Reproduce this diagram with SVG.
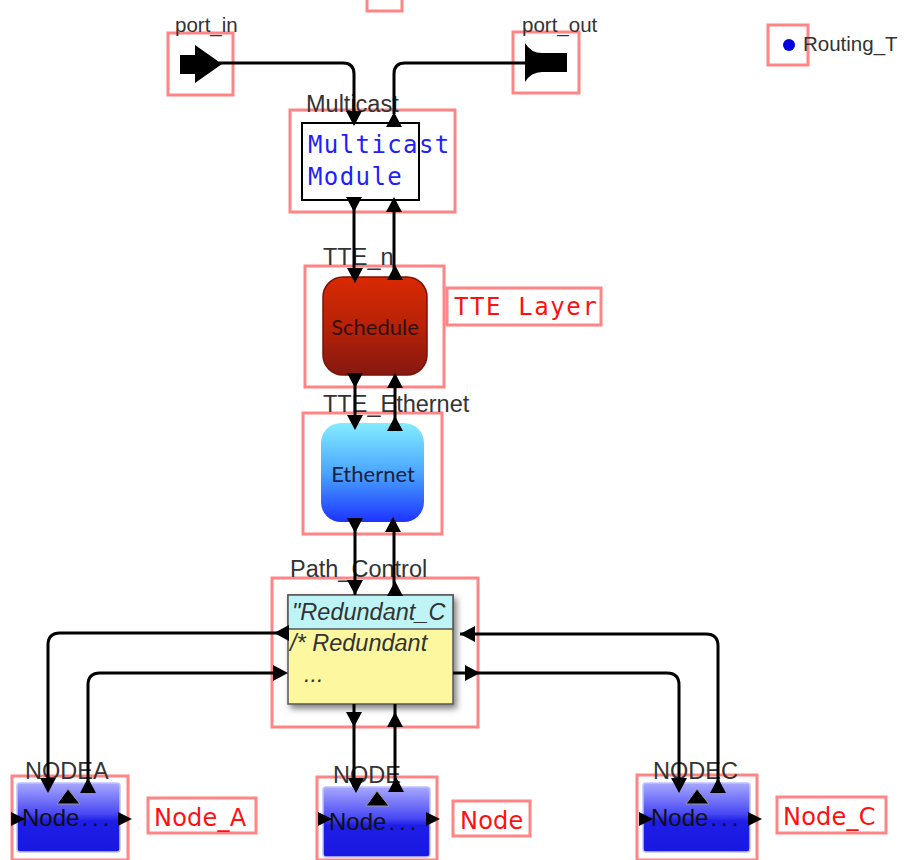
<svg xmlns="http://www.w3.org/2000/svg" width="914" height="860" viewBox="0 0 914 860">
<defs>
<style>
.rb{fill:none;stroke:#ff8484;stroke-width:3}
.lbl{font-family:"Liberation Sans",Arial,sans-serif;font-size:23.5px;fill:#333}
.plbl{font-family:"Liberation Sans",Arial,sans-serif;font-size:20.5px;fill:#333}
.c{fill:none;stroke:#000;stroke-width:3}
.rt{font-family:"DejaVu Sans",Verdana,sans-serif;font-size:24px;fill:#ff1010;letter-spacing:0.2px}
.mono{font-family:"DejaVu Sans Mono",monospace;font-size:24px;letter-spacing:1.4px}
.nt{font-family:"Liberation Sans",Arial,sans-serif;font-size:24px;fill:#111}
.dots{letter-spacing:4px}
.bt{font-family:Lato,"Open Sans",sans-serif;font-size:22px}
.it{font-family:"Liberation Sans",Arial,sans-serif;font-size:23.5px;font-style:italic;fill:#333}
.tri{fill:#000;stroke:#999;stroke-width:1}
</style>
<linearGradient id="gS" x1="0" y1="0" x2="0" y2="1">
<stop offset="0" stop-color="#d82a02"/><stop offset="0.5" stop-color="#b82208"/><stop offset="1" stop-color="#861810"/>
</linearGradient>
<linearGradient id="gE" x1="0" y1="0" x2="0" y2="1">
<stop offset="0" stop-color="#84ecff"/><stop offset="0.5" stop-color="#4aa6ff"/><stop offset="1" stop-color="#1c34ff"/>
</linearGradient>
<linearGradient id="gN" x1="0" y1="0" x2="0" y2="1">
<stop offset="0" stop-color="#a8a8ff"/><stop offset="0.45" stop-color="#4848f4"/><stop offset="0.55" stop-color="#1e1ee6"/><stop offset="1" stop-color="#1818e0"/>
</linearGradient>
<filter id="sh" x="-10%" y="-10%" width="130%" height="130%">
<feDropShadow dx="3" dy="4" stdDeviation="3" flood-color="#000" flood-opacity="0.5"/>
</filter>
<clipPath id="pcClip"><rect x="288" y="595" width="165" height="109"/></clipPath>
<path id="ad" d="M-8,-15H8L0,0Z"/>
<path id="au" d="M-8,15H8L0,0Z"/>
<path id="al" d="M15,-8V8L0,0Z"/>
<path id="ar" d="M-15,-8V8L0,0Z"/>
<path id="sar" d="M-14,-7V7L0,0Z"/>
</defs>
<rect x="0" y="0" width="914" height="860" fill="#fff"/>

<g id="top_marker">
<rect class="rb" x="367" y="-10" width="35" height="21"/>
</g>

<g id="port_in">
<rect class="rb" x="168" y="33" width="65" height="62"/>
<text class="plbl" x="175" y="32">port_in</text>
<polygon points="180,55 195,55 195,45 222,64 195,83 195,74 180,74" fill="#000"/>
</g>

<g id="port_out">
<rect class="rb" x="513" y="32" width="66" height="61"/>
<text class="plbl" x="522" y="32">port_out</text>
<path d="M525,43 Q531,53 542,53 H567 V72 H542 Q531,72 525,82 Z" fill="#000"/>
</g>

<g id="routing">
<rect class="rb" x="768" y="25" width="40" height="40"/>
<circle cx="789" cy="45" r="6" fill="#0000e0"/>
<text class="plbl" x="803" y="51" font-size="22px">Routing_T</text>
</g>

<g id="multicast">
<rect class="rb" x="290" y="110" width="165" height="102"/>
<text class="lbl" x="306" y="112">Multicast</text>
<rect x="302" y="123" width="117" height="77" fill="#fff" stroke="#000" stroke-width="2"/>
<text class="mono" x="308" y="153" fill="#2020ff">Multicast</text>
<text class="mono" x="308" y="185" fill="#2020ff">Module</text>
</g>

<g id="tte_n">
<rect class="rb" x="305" y="266" width="139" height="121"/>
<text class="lbl" x="323" y="265">TTE_n</text>
<rect x="323" y="277" width="104" height="98" rx="20" fill="url(#gS)" stroke="#7a1208" stroke-width="1.5"/>
<text class="bt" x="375" y="335" text-anchor="middle" fill="#301010">Schedule</text>
</g>

<g id="tte_layer_label">
<rect class="rb" x="447" y="288" width="154" height="37"/>
<text class="mono" x="454" y="315" fill="#ff1010" font-size="23px" style="letter-spacing:1.6px">TTE Layer</text>
</g>

<g id="tte_ethernet">
<rect class="rb" x="303" y="413" width="139" height="121"/>
<text class="lbl" x="323" y="412">TTE_Ethernet</text>
<rect x="321" y="423" width="103" height="99" rx="20" fill="url(#gE)"/>
<text class="bt" x="373" y="482" text-anchor="middle" fill="#1a2040">Ethernet</text>
</g>

<g id="path_control">
<rect class="rb" x="272" y="578" width="206" height="149"/>
<text class="lbl" x="290" y="577">Path_Control</text>
<rect x="288" y="595" width="165" height="109" fill="#fdf8a0" stroke="#555" stroke-width="1.5" filter="url(#sh)"/>
<rect x="288" y="595" width="165" height="34" fill="#bff4f6" stroke="#555" stroke-width="1.5"/>
<g clip-path="url(#pcClip)">
<text class="it" x="292" y="620">"Redundant_C</text>
<text class="it" x="290" y="651">/* Redundant</text>
<text class="it" x="304" y="682">...</text>
</g>
</g>

<g id="nodea">
<rect class="rb" x="12" y="776" width="116" height="84"/>
<rect x="17" y="783" width="103" height="69" rx="3" fill="url(#gN)" stroke="#bfc4ff" stroke-width="1.5"/>
<text class="lbl" x="25" y="779">NODEA</text>
<polygon class="tri" points="68,789 57,804 80,804"/>
<text class="nt" x="22" y="826">Node<tspan class="dots" dx="2">...</tspan></text>
<use href="#sar" x="25" y="819"/>
<use href="#sar" x="132" y="819"/>
</g>
<g id="nodea_label">
<rect class="rb" x="148" y="798" width="108" height="35"/>
<text class="rt" x="154" y="826">Node_A</text>
</g>

<g id="node">
<rect class="rb" x="317" y="777" width="120" height="83"/>
<rect x="323" y="787" width="107" height="70" rx="3" fill="url(#gN)" stroke="#bfc4ff" stroke-width="1.5"/>
<text class="lbl" x="333" y="783">NODE</text>
<polygon class="tri" points="377,791 366,806 389,806"/>
<text class="nt" x="329" y="830">Node<tspan class="dots" dx="2">...</tspan></text>
<use href="#sar" x="332" y="819"/>
<use href="#sar" x="440" y="819"/>
</g>
<g id="node_label">
<rect class="rb" x="453" y="801" width="77" height="35"/>
<text class="rt" x="460" y="829">Node</text>
</g>

<g id="nodec">
<rect class="rb" x="637" y="775" width="120" height="85"/>
<rect x="643" y="783" width="107" height="69" rx="3" fill="url(#gN)" stroke="#bfc4ff" stroke-width="1.5"/>
<text class="lbl" x="653" y="779">NODEC</text>
<polygon class="tri" points="697,789 686,804 709,804"/>
<text class="nt" x="651" y="826">Node<tspan class="dots" dx="2">...</tspan></text>
<use href="#sar" x="653" y="819"/>
<use href="#sar" x="762" y="819"/>
</g>
<g id="nodec_label">
<rect class="rb" x="777" y="797" width="109" height="36"/>
<text class="rt" x="783" y="825">Node_C</text>
</g>

<g id="connectors">
<path class="c" d="M219,63 H343 Q354,63 354,74 V114"/>
<use href="#ad" x="354" y="126"/>
<path class="c" d="M394,114 V74 Q394,63 405,63 H526"/>
<use href="#au" x="394" y="112"/>

<path class="c" d="M354,200 V278 M394,200 V278"/>
<use href="#ad" x="354" y="212"/><use href="#ad" x="355" y="283"/>
<use href="#au" x="394" y="197"/><use href="#au" x="395" y="265"/>

<path class="c" d="M355,375 V423 M395,375 V423"/>
<use href="#ad" x="355" y="388"/><use href="#ad" x="355" y="430"/>
<use href="#au" x="395" y="373"/><use href="#au" x="395" y="416"/>

<path class="c" d="M355,522 V595 M394,522 V595"/>
<use href="#ad" x="355" y="533"/><use href="#ad" x="355" y="595"/>
<use href="#au" x="393" y="517"/><use href="#au" x="395" y="581"/>

<path class="c" d="M354,704 V787 M395,704 V787"/>
<use href="#ad" x="354" y="727"/><use href="#ad" x="356" y="793"/>
<use href="#au" x="395" y="712"/><use href="#au" x="396" y="777"/>

<path class="c" d="M288,633 H60 Q48,633 48,645 V782"/>
<use href="#al" x="274" y="633"/>
<use href="#ad" x="48" y="793"/>
<path class="c" d="M88,790 V685 Q88,673 100,673 H276"/>
<use href="#au" x="88" y="778"/>
<use href="#ar" x="288" y="673"/>

<path class="c" d="M460,634 H706 Q718,634 718,646 V790"/>
<use href="#al" x="460" y="634"/>
<use href="#au" x="718" y="778"/>
<path class="c" d="M453,673 H667 Q679,673 679,685 V782"/>
<use href="#ar" x="480" y="673"/>
<use href="#ad" x="679" y="793"/>
</g>
</svg>
